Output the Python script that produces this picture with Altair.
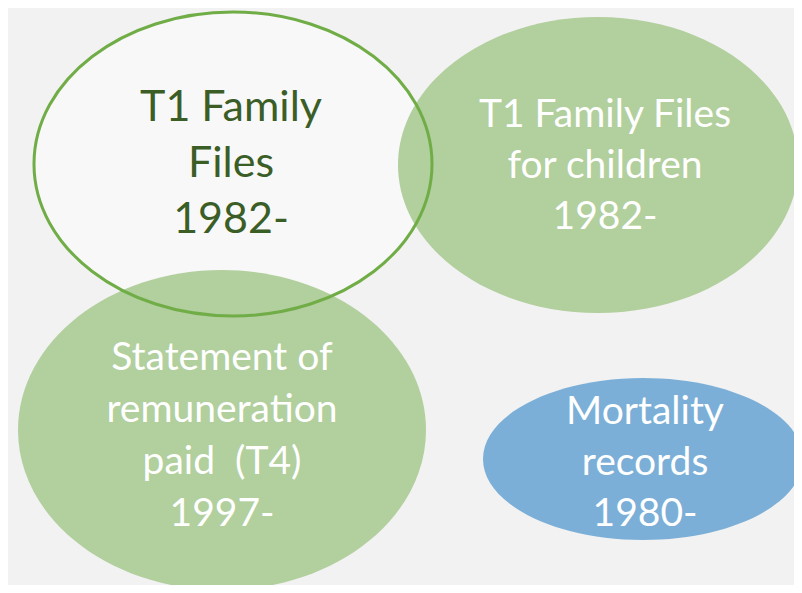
import altair as alt
import pandas as pd

# Ellipse descriptions (reference pixel coordinates)
names = ["t1", "children", "t4", "mortality"]
cx = [233, 598, 222, 643]
cy = [164, 165, 430, 459]
rx = [199, 200, 204, 160]
ry = [152, 148, 160, 81]
fills = ["#f8f8f8", "#b2cf9e", "#b2cf9e", "#7bafd7"]
labels = [
    ["T1 Family", "Files", "1982-"],
    ["T1 Family Files", "for children", "1982-"],
    ["Statement of", "remuneration", "paid\u00a0 (T4)", "1997-"],
    ["Mortality", "records", "1980-"],
]
text_cx = [231, 605, 222, 645]
text_cy = [164, 166, 436, 463]
line_heights = [56, 51, 52, 51]
text_colors = ["#3b5e27", "#ffffff", "#ffffff", "#ffffff"]


def ellipse_path(a, b):
    k = b / a
    return f"M -1 0 A 1 {k:.4f} 0 1 0 1 0 A 1 {k:.4f} 0 1 0 -1 0 Z"


df = pd.DataFrame({
    "name": names, "cx": cx, "cy": cy,
    "path": [ellipse_path(a, b) for a, b in zip(rx, ry)],
    "size": [(2 * a) ** 2 for a in rx],
    "fill": fills,
})

rows = []
for n, lines, tx, tc, lh, col in zip(names, labels, text_cx, text_cy, line_heights, text_colors):
    k = len(lines)
    for i, line in enumerate(lines):
        rows.append({"name": n, "text": line, "tx": tx,
                     "ty": tc + (i - (k - 1) / 2) * lh, "color": col})
tdf = pd.DataFrame(rows)

W, H = 786, 577
xs = alt.Scale(domain=[8, 8 + W])
ys = alt.Scale(domain=[8, 8 + H], reverse=True)

base = alt.Chart(df).encode(
    x=alt.X("cx:Q", scale=xs, axis=None),
    y=alt.Y("cy:Q", scale=ys, axis=None),
)

shape_enc = dict(
    shape=alt.Shape("path:N", scale=None),
    size=alt.Size("size:Q", scale=None),
)

white_fill = base.transform_filter(alt.datum.name == "t1").mark_point(
    filled=True, opacity=1, strokeWidth=0
).encode(fill=alt.Fill("fill:N", scale=None), **shape_enc)

others = base.transform_filter(alt.datum.name != "t1").mark_point(
    filled=True, opacity=1, strokeWidth=0
).encode(fill=alt.Fill("fill:N", scale=None), **shape_enc)

white_stroke = base.transform_filter(alt.datum.name == "t1").mark_point(
    filled=False, opacity=1, stroke="#70ad47", strokeWidth=3
).encode(**shape_enc)

tbase = alt.Chart(tdf).encode(
    x=alt.X("tx:Q", scale=xs, axis=None),
    y=alt.Y("ty:Q", scale=ys, axis=None),
    text="text:N",
    color=alt.Color("color:N", scale=None),
)

text_t1 = tbase.transform_filter(alt.datum.name == "t1").mark_text(
    font="Lato", fontSize=43, align="center", baseline="middle",
)
text_other = tbase.transform_filter(alt.datum.name != "t1").mark_text(
    font="Lato", fontSize=39, align="center", baseline="middle",
)

chart = alt.layer(white_fill, others, white_stroke, text_t1, text_other).properties(
    width=W, height=H, autosize=alt.AutoSizeParams(type="none"), padding=0,
    background="#f2f2f2",
).configure_view(stroke=None)

chart.save("out.html", embed_options={"renderer": "svg", "actions": False})
